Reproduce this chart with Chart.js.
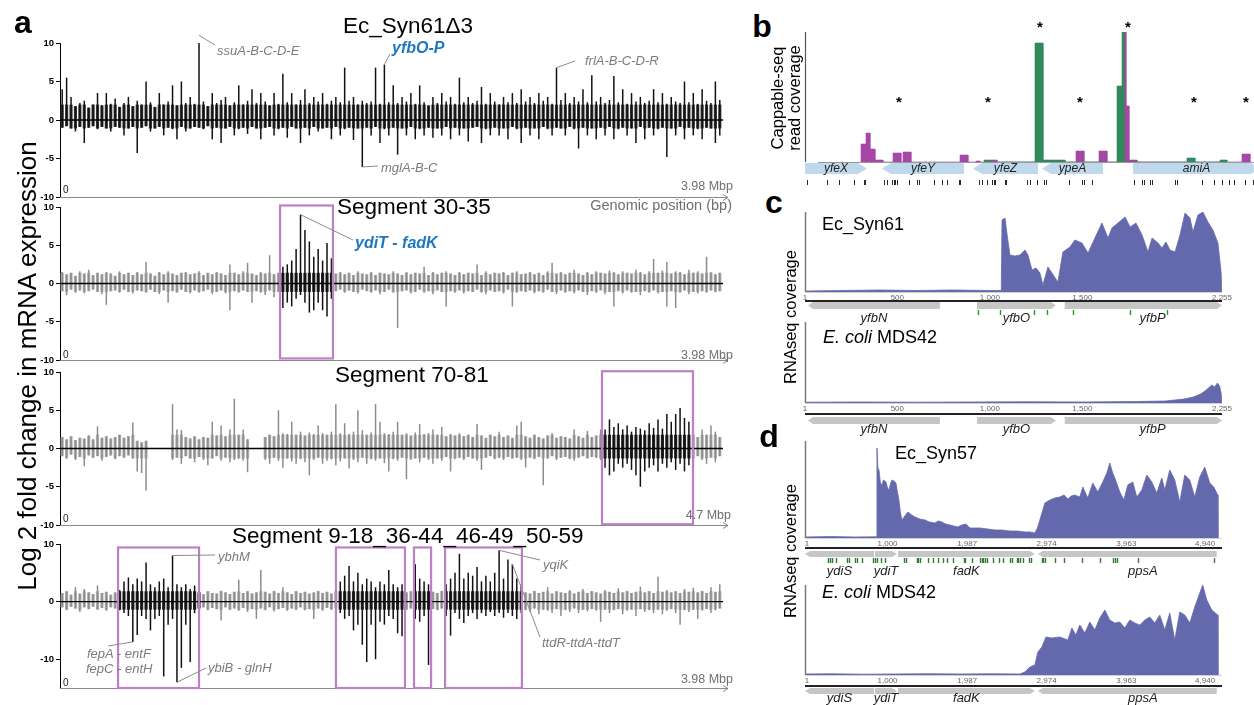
<!DOCTYPE html>
<html>
<head>
<meta charset="utf-8">
<title>mRNA expression and coverage panels</title>
<script src="https://cdn.jsdelivr.net/npm/chart.js@4.4.1/dist/chart.umd.min.js"></script>
<style>
  html, body { margin: 0; padding: 0; background: #fff; }
  body { width: 1254px; height: 705px; position: relative; overflow: hidden;
         font-family: "Liberation Sans", Arial, sans-serif; color: #000; }
  canvas { position: absolute; }
  .t { position: absolute; white-space: nowrap; line-height: 1; z-index: 2; }
  .c { transform: translate(-50%, -50%); }
  .l { transform: translate(0, -50%); }
  .r { transform: translate(-100%, -50%); }
  .v { transform: translate(-50%, -50%) rotate(-90deg); text-align: center; }
  .letter { font-size: 32px; font-weight: bold; }
  .title { font-size: 22.5px; }
  .gene { color: #7b7b7b; font-style: italic; font-size: 13px; }
  .hit { color: #1b78c3; font-style: italic; font-weight: bold; font-size: 16px; }
  .axnote { color: #6f6f6f; font-size: 12.5px; }
  .zero { font-size: 10px; color: #222; }
  .strain { font-size: 18px; }
</style>
</head>
<body>

<!-- panel letters -->
<div class="t c letter" style="left:23px;top:22px">a</div>
<div class="t c letter" style="left:762px;top:26px">b</div>
<div class="t c letter" style="left:774px;top:202px">c</div>
<div class="t c letter" style="left:769px;top:436px">d</div>

<!-- panel a -->
<div class="t v" style="left:27px;top:366px;font-size:26px">Log 2 fold change in mRNA expression</div>
<div class="t c title" style="left:408px;top:26px">Ec_Syn61Δ3</div>
<div class="t l title" style="left:337px;top:207px">Segment 30-35</div>
<div class="t l title" style="left:335px;top:375px">Segment 70-81</div>
<div class="t l title" style="left:232px;top:536px">Segment 9-18_36-44_46-49_50-59</div>

<div class="t l hit" style="left:392px;top:48px">yfbO-P</div>
<div class="t l hit" style="left:355px;top:243px">ydiT - fadK</div>

<div class="t l gene" style="left:217px;top:50px">ssuA-B-C-D-E</div>
<div class="t l gene" style="left:381px;top:167px">mglA-B-C</div>
<div class="t l gene" style="left:585px;top:60px">frlA-B-C-D-R</div>
<div class="t l gene" style="left:218px;top:556px">ybhM</div>
<div class="t l gene" style="left:87px;top:653px">fepA - entF</div>
<div class="t l gene" style="left:86px;top:668px">fepC - entH</div>
<div class="t l gene" style="left:208px;top:667px">ybiB - glnH</div>
<div class="t l gene" style="left:543px;top:564px">yqiK</div>
<div class="t l gene" style="left:542px;top:642px">ttdR-ttdA-ttdT</div>

<div class="t l zero" style="left:63px;top:190px">0</div>
<div class="t l zero" style="left:63px;top:355px">0</div>
<div class="t l zero" style="left:63px;top:519px">0</div>
<div class="t l zero" style="left:63px;top:683px">0</div>
<div class="t r axnote" style="left:733px;top:186px">3.98 Mbp</div>
<div class="t r axnote" style="left:733px;top:355px">3.98 Mbp</div>
<div class="t r axnote" style="left:731px;top:515px">4.7 Mbp</div>
<div class="t r axnote" style="left:733px;top:679px">3.98 Mbp</div>
<div class="t r axnote" style="left:732px;top:205px;font-size:14.5px">Genomic position (bp)</div>

<!-- panel b, c, d -->
<div class="t v" style="left:786px;top:98px;font-size:16.5px;line-height:17px">Cappable-seq<br>read coverage</div>
<div class="t v" style="left:790px;top:317px;font-size:16.5px">RNAseq coverage</div>
<div class="t v" style="left:790px;top:551px;font-size:16.5px">RNAseq coverage</div>
<div class="t l strain" style="left:822px;top:224px">Ec_Syn61</div>
<div class="t l strain" style="left:823px;top:337px"><i>E. coli</i> MDS42</div>
<div class="t l strain" style="left:895px;top:453px">Ec_Syn57</div>
<div class="t l strain" style="left:822px;top:592px"><i>E. coli</i> MDS42</div>

<script>
// ---------- panel a: log2 fold change per genome bin (upper / lower extent) ----------
const syn61Hi = [
  4, 5.5, 3, 1.8, 2.2, 2.5, 1.6, 2, 3.5, 1.9, 3.5, 2.1, 2.8, 1.7, 2.2,
  3, 1.8, 2.5, 2, 5, 2.3, 1.7, 3.5, 2, 2.4, 4.5, 1.9, 5, 2.2, 3,
  2.1, 11, 2.4, 1.8, 3.5, 2.2, 2.6, 3, 1.9, 2.3, 4.5, 2, 2.5, 4, 2.2,
  3.5, 2.4, 1.9, 3.5, 2.1, 6, 2.3, 3.5, 2, 2.6, 4, 2.2, 3, 2.4, 3.5,
  2.1, 2.5, 3, 2.3, 6.8, 2.5, 3, 2, 2.5, 2.2, 2.4, 6.8, 2.1, 7.2, 2.3,
  4.5, 2.2, 3, 2.4, 3.5, 2.1, 4.5, 2.3, 1.9, 3, 2.2, 3.5, 2.4, 3, 2.1,
  5.5, 2.3, 3, 2.2, 2.5, 4.3, 2.1, 3.5, 2.4, 2, 3, 2.3, 3.5, 2.2, 4,
  2.4, 3, 2.2, 3.5, 2.5, 3, 2.1, 6.8, 2.6, 3.5, 2.2, 3, 2.4, 4, 2.3,
  5.8, 2.4, 3, 2.2, 2.6, 5.7, 2.3, 4, 2.1, 3.5, 2.4, 3, 2.2, 2.5, 4,
  2.3, 3.5, 2.1, 3, 2.4, 2.2, 5, 2.3, 3.5, 2.1, 4, 2.5, 2.2, 5, 2.6
];
const syn61Lo = [
  -1, -0.8, -1.1, -1.5, -0.9, -3, -1, -0.8, -1.2, -0.9, -1.1, -1.5, -0.9, -1, -2,
  -1.1, -0.9, -4.3, -1, -0.8, -1.5, -1.1, -0.9, -2, -1, -1.2, -2.5, -0.9, -1.5, -1.1,
  -0.9, -1, -1.2, -0.8, -2.5, -1, -3, -1.1, -0.9, -2, -1.2, -1, -1.8, -0.9, -1.1,
  -2.5, -1, -0.9, -2, -1.2, -1, -2.3, -0.9, -1.1, -3, -1, -2, -0.9, -1.5, -1.1,
  -1, -2.5, -0.9, -2, -1.2, -1, -2.6, -1.1, -6.1, -1, -2, -0.9, -3, -1.2, -2,
  -1, -4.5, -1.1, -2, -0.9, -2.5, -1.2, -2, -1, -2.3, -1.1, -2, -0.9, -2.5, -1,
  -2, -1.1, -2.8, -1, -0.9, -3, -1.2, -2, -1, -2, -1.1, -2.5, -0.9, -1.2, -3,
  -1, -2, -1.1, -2.5, -0.9, -1.2, -2, -1, -1.1, -2, -0.9, -1.2, -3.7, -1, -2,
  -1.1, -2.5, -1, -2, -0.9, -2.5, -1.2, -1, -2, -1.1, -3, -0.9, -2.5, -1, -2,
  -1.2, -1, -4.8, -1.1, -2, -0.9, -2.5, -1, -2, -1.2, -2.5, -1, -1.1, -3, -2
];

const seg30Hi = [
  1.5, 1.2, 1.4, 1, 1.6, 1.3, 1.8, 1.1, 1.4, 1.2, 1.5, 1.3, 1, 1.6, 1.2,
  1.4, 1.1, 1.5, 1.2, 2.8, 1.3, 1, 1.5, 1.2, 1.6, 1.3, 1.1, 1.4, 1.5, 1.2,
  1.3, 1.6, 1.1, 1.4, 1.2, 1.5, 1.3, 1.1, 2.5, 1.4, 1.2, 1.6, 2.7, 1.3, 1.1,
  1.5, 1.3, 3.7, 1.2, 1.4, 2.2, 2.5, 3, 4.5, 9, 7, 5.5, 3.5, 4.5, 3,
  5.3, 3.3, 1.3, 1.5, 1.2, 1.4, 1.1, 1.6, 1.3, 1.2, 1.5, 1.1, 1.4, 1.3, 1.2,
  1.6, 1.3, 1.1, 1.5, 1.2, 1.4, 1.3, 2.2, 1.1, 1.5, 1.2, 1.4, 1.6, 1.3, 1.1,
  1.5, 1.2, 1.4, 1.3, 2.5, 1.1, 1.6, 1.2, 1.4, 1.3, 1.5, 1.1, 1.4, 1.6, 1.2,
  1.3, 1.5, 1.2, 1.4, 1.1, 1.6, 2.7, 1.3, 1.5, 1.2, 1.4, 1.8, 1.3, 1.1, 1.5,
  1.2, 1.6, 1.4, 1.3, 1.7, 1.5, 1.2, 1.6, 1.4, 1.3, 1.8, 1.5, 1.2, 1.6, 3.2,
  1.4, 1.7, 2.8, 1.3, 1.6, 1.5, 1.2, 1.8, 1.4, 1.6, 1.3, 3.5, 1.5, 1.2, 1.4
];
const seg30Lo = [
  -1, -1.5, -0.8, -1.2, -0.9, -1.3, -1, -0.8, -1.1, -1.4, -2.8, -1, -0.9, -1.2, -0.8,
  -1.1, -1.3, -0.9, -1, -1.2, -0.8, -1.1, -1.4, -0.9, -2.5, -1, -1.2, -0.8, -1.1, -1.3,
  -0.9, -1.2, -1, -0.8, -1.4, -1.1, -0.9, -1.3, -3.5, -1, -1.2, -0.9, -1.1, -2.5, -1,
  -1.2, -1.5, -0.9, -1.8, -1.1, -3.2, -2.5, -3, -2, -1.5, -2.5, -3.8, -3.5, -2.5, -3.5,
  -4.3, -2, -1, -0.8, -1.2, -0.9, -1.1, -1.3, -0.8, -1, -1.2, -0.9, -1.4, -1.1, -0.8,
  -1.2, -5.8, -1, -0.9, -1.3, -1.1, -0.8, -1.2, -1, -1.4, -0.9, -1.1, -3, -1, -1.2,
  -0.9, -1.3, -1, -1.1, -0.8, -1.2, -1.4, -0.9, -1.1, -1, -1.3, -0.8, -3, -1.2, -1,
  -1.1, -0.9, -1.3, -1, -1.2, -0.8, -1.1, -1.4, -0.9, -1.2, -1, -1.3, -0.9, -1.1, -1.5,
  -1, -1.2, -0.9, -1.4, -1.1, -3, -1, -1.3, -0.9, -1.2, -1.1, -1.5, -1, -1.2, -0.9,
  -1.3, -1.1, -3, -1, -3.2, -1.2, -0.9, -1.4, -1.1, -1.3, -1, -1.2, -0.9, -1.1, -1
];

const seg70Hi = [
  1.5, 1.2, 1.6, 1.1, 1.4, 1.3, 1.7, 1.2, 2.9, 1.4, 1.6, 1.3, 1.5, 1.8, 1.4,
  1.6, 3.4, 1, 0.8, 1, null, null, null, null, null, 5.8, 2.5, 2.4, 1.5, 1.3,
  1.6, 1.2, 1.5, 1.4, 3.5, 1.7, 3, 1.6, 2.5, 6.5, 1.8, 2.5, 1.2, null, null,
  null, 1.5, 1.8, 1.6, 5, 2, 1.9, 3.5, 1.8, 2.2, 1.7, 2.1, 1.9, 3, 2,
  1.8, 2.2, 5.8, 2, 3.3, 1.9, 2.2, 5, 2.4, 1.8, 2.1, 5.8, 3.5, 2, 1.9,
  2.2, 3.5, 1.8, 2, 1.7, 2.1, 3.2, 1.9, 2, 2.5, 1.8, 2.8, 1.6, 1.9, 1.7,
  2, 1.6, 1.8, 1.5, 3.2, 1.7, 1.4, 1.8, 1.6, 2.2, 1.5, 1.7, 1.4, 3, 3.5,
  1.6, 1.4, 1.8, 1.5, 1.3, 1.7, 2, 1.4, 1.6, 1.5, 1.3, 2.5, 1.6, 1.4, 2.3,
  1.5, 1.7, 2.5, 2.5, 3.8, 2.8, 3.3, 2.5, 3, 2.2, 2.8, 2.6, 2.4, 3.3, 2.7,
  3.8, 2.6, 4.5, 3.5, 4.5, 5.3, 4, 3.5, 2.5, 1.5, 2.5, 1.8, 3, 2.2, 1.5
];
const seg70Lo = [
  -1, -1.3, -0.8, -1.5, -1.1, -2.3, -0.9, -1.2, -1, -1.6, -1.1, -0.9, -1.4, -1, -1.2,
  -0.9, -1.3, -3, -3.2, -5.5, null, null, null, null, null, -1.5, -1.2, -2, -1, -1.3,
  -1.8, -1.1, -1.5, -2.2, -1.3, -1, -1.6, -1.2, -1.8, -1.5, -1.3, -1.6, -3.1, null, null,
  null, -1.5, -2, -1.2, -1.6, -2.5, -1.3, -1.7, -2, -1.4, -1.8, -3.5, -1.5, -1.2, -2,
  -1.6, -1.4, -2.2, -1.7, -1.3, -2.6, -1.5, -1.8, -1.2, -2, -1.4, -1.6, -1.3, -1.9, -3,
  -1.4, -1.6, -1.2, -4, -1.5, -1.3, -1.8, -1.2, -1.5, -2, -1.3, -1.6, -1.1, -3, -1.4,
  -1.2, -1.5, -1.1, -1.3, -1.6, -2.8, -1.2, -1, -1.4, -1.2, -1.5, -1.1, -1.3, -1.2, -1.5,
  -2.5, -1.2, -1.4, -1.1, -4.8, -1.3, -1, -1.5, -1.2, -1.1, -1.4, -1.6, -1.2, -1, -1.3,
  -1.1, -1.2, -1.5, -2.5, -3.5, -3, -2, -2.5, -2, -2.8, -3.5, -5, -3, -2.5, -2.2,
  -3, -2, -2.5, -1.8, -2.8, -2, -3, -2.2, -4.4, -1, -1.5, -2, -1.2, -1.8, -1
];

const seg9Hi = [
  1.5, 1.8, 1.2, 2.5, 1.4, 2.2, 1.6, 1.3, 2.8, 1.5, 1.7, 1.2, 1.6, 2, 3.5,
  4.2, 3, 4, 3.5, 6.8, 3, 2.5, 3.5, 4, 2.5, 8, 3, 2.5, 3, 2.2,
  2.8, 1.6, 1.3, 1.8, 1.5, 1.4, 1.9, 1.6, 1.3, 1.7, 3.8, 1.5, 1.8, 1.4, 1.6,
  5.5, 1.7, 1.4, 1.9, 1.5, 2.5, 1.6, 1.3, 1.8, 1.5, 1.7, 1.4, 1.6, 1.9, 1.5,
  1.7, 1.4, 1.8, 3.5, 4.5, 6.2, 3.5, 5, 3, 4, 3.5, 2.5, 3.5, 3, 5.5,
  3, 2.5, 3, 1.6, 1.8, 6.5, 4, 3.5, 3, 1.7, 1.5, 1.9, 3, 4, 5,
  8.3, 4, 5, 4.5, 6, 3.5, 4.5, 3.5, 5, 8.9, 4, 7.3, 6.5, 4, 3,
  1.6, 1.4, 1.9, 1.5, 1.7, 2.5, 1.4, 1.8, 1.6, 1.5, 2, 1.4, 1.7, 2.2, 1.5,
  1.8, 1.6, 1.4, 2, 1.7, 1.5, 2.3, 1.6, 1.9, 1.5, 1.7, 2.6, 1.6, 1.8, 1.5,
  4.3, 1.7, 2, 1.6, 1.8, 1.5, 2.2, 1.7, 2.4, 1.6, 1.9, 1.5, 2.5, 1.7, 3
];
const seg9Lo = [
  -1, -1.5, -0.9, -1.2, -1.8, -1, -1.3, -0.9, -1.4, -1.1, -1.6, -1, -1.2, -1.5, -2,
  -2.5, -7, -5.8, -2.5, -3, -5, -3, -2.5, -13, -4, -3, -14, -11.5, -4, -10.5,
  -2, -1.2, -1, -1.5, -1.1, -1.3, -3.3, -1, -1.4, -1.2, -1.6, -1.1, -1.8, -1.3, -3,
  -1.2, -1.5, -1, -1.7, -1.3, -1.1, -1.6, -1.2, -1.4, -1, -1.5, -1.3, -3, -1.2, -1.6,
  -1.1, -1.4, -1.2, -2, -3, -2.5, -5, -4, -7.5, -10.5, -4, -10, -3.5, -4, -2.5,
  -3, -5.5, -6, -1.4, -1.2, -3, -3.5, -2.5, -11, -1.3, -1.5, -1.2, -2.5, -5.9, -2,
  -3, -3.7, -2.5, -2, -3, -2, -2.5, -1.8, -2.5, -2, -2.8, -2, -2.5, -3, -2,
  -1.5, -1.8, -1.2, -2.2, -1.4, -1.6, -2, -1.3, -2.5, -1.5, -1.8, -1.2, -2, -1.4, -1.7,
  -1.3, -1.6, -3.5, -1.4, -2, -1.5, -1.3, -2.2, -1.6, -1.4, -2.5, -1.3, -1.8, -1.5, -2,
  -1.4, -2.2, -1.6, -1.3, -2, -4, -1.5, -1.8, -1.4, -3, -1.6, -1.3, -2, -1.5, -1.2
];

// highlighted segments (Mbp)
const seg30Boxes = [[1.323, 1.641]];
const seg70Boxes = [[3.848, 4.494]];
const seg9Boxes = [[0.349, 0.836], [1.659, 2.074], [2.128, 2.231], [2.315, 2.777]];

// ---------- panel b: Cappable-seq coverage blocks [start bp, end bp, reads] ----------
const capPurple = [[1120, 1220, 18], [1220, 1300, 29], [1300, 1400, 13], [1400, 1560, 2],
  [1760, 1920, 9], [1960, 2120, 10], [3100, 3260, 7], [3420, 3500, 1], [3700, 3840, 2],
  [5420, 5580, 11], [5880, 6040, 11], [6360, 6420, 130], [6420, 6480, 56], [6480, 6640, 2],
  [8740, 8900, 8]];
const capGreen = [[3580, 3700, 2], [4600, 4760, 119], [4760, 5200, 2], [6240, 6340, 76],
  [6340, 6380, 130], [7640, 7800, 4], [8300, 8440, 2]];
const capStars = [[1880, 63], [3660, 63], [5500, 63], [7780, 63], [8820, 63], [4700, 138], [6460, 138]];
const genesB = [['yfeX', 0, 1240, 1], ['yfeY', 1540, 3180, -1], ['yfeZ', 3360, 4660, -1],
  ['ypeA', 4740, 5960, -1], ['amiA', 6560, 9100, 1]];
const sitesB = [30, 430, 670, 970, 1180, 1200, 1570, 1630, 1730, 1770, 1800, 1830, 2070, 2230,
  2270, 2570, 2730, 2830, 3070, 3100, 3470, 3530, 3630, 3730, 3770, 3800, 4000, 4020, 4430,
  4500, 4630, 4770, 4830, 5270, 5530, 5570, 5730, 6570, 6730, 6770, 6900, 6930, 7400, 7430,
  7930, 8170, 8330, 8470, 8570, 8800, 8950];

// ---------- panel c: yfbN-yfbO-yfbP RNAseq coverage ----------
const ticksC = [1, 500, 1000, 1500, 2255];
const covC1Pos = [1, 200, 400, 600, 800, 1000, 1062, 1066, 1082, 1095,
  1109, 1135, 1163, 1190, 1206, 1228, 1250, 1271, 1287, 1314,
  1336, 1368, 1395, 1433, 1460, 1498, 1531, 1568, 1606, 1639,
  1660, 1693, 1731, 1758, 1790, 1823, 1855, 1877, 1909, 1931,
  1952, 1974, 2001, 2028, 2055, 2082, 2098, 2125, 2152, 2179,
  2206, 2233, 2250, 2255];
const covC1Val = [1, 1.5, 2, 1.5, 2, 1.5, 1.5, 72, 74, 55,
  37, 36, 37, 42, 37, 22, 24, 19, 7, 25,
  19, 10, 40, 45, 52, 49, 39, 54, 69, 54,
  64, 69, 75, 65, 69, 57, 40, 54, 49, 44,
  50, 42, 40, 57, 79, 74, 60, 77, 80, 70,
  62, 49, 20, 0];
const covC2Pos = [1, 300, 600, 900, 1200, 1500, 1800, 1950, 2000, 2050, 2100, 2140, 2170, 2200, 2215, 2230, 2242, 2250, 2255];
const covC2Val = [0.8, 1, 0.8, 1, 1.2, 1, 1.5, 2, 3, 4, 6, 9, 13, 18, 16, 20, 17, 10, 0];
const genesC = [['yfbN', 17, 730, -1], ['yfbO', 931, 1357, 1], ['yfbP', 1405, 2255, 1, 1880]];
const sitesC = [936, 1055, 1239, 1309, 1450, 1757, 1957];

// ---------- panel d: ydiS-ydiT-fadK-ppsA RNAseq coverage ----------
const ticksD = [1, 1000, 1987, 2974, 3963, 4940];
const covD1Pos = [-24, 300, 600, 860, 869, 880, 894, 912, 931, 950,
  981, 1000, 1018, 1036, 1055, 1080, 1105, 1125, 1142, 1160,
  1179, 1215, 1253, 1300, 1340, 1400, 1464, 1520, 1588, 1630,
  1675, 1720, 1774, 1820, 1873, 1920, 1973, 2022, 2080, 2146,
  2240, 2332, 2420, 2518, 2610, 2704, 2770, 2828, 2860, 2890,
  2952, 3014, 3076, 3138, 3190, 3237, 3280, 3324, 3386, 3423,
  3485, 3547, 3609, 3671, 3721, 3758, 3790, 3820, 3882, 3932,
  3981, 4043, 4093, 4155, 4217, 4279, 4341, 4403, 4440, 4502,
  4564, 4626, 4688, 4750, 4812, 4874, 4936, 4998, 5048, 5097,
  5100];
const covD1Val = [1, 1.5, 1, 1.2, 90, 70, 68, 55, 53, 58,
  56, 50, 48, 54, 58, 57, 55, 45, 38, 25,
  18, 22, 26, 23, 21, 19, 18, 16, 15, 17,
  16, 14, 13, 12, 11, 13, 14, 10, 10, 10,
  9, 8, 8, 7, 7, 6, 6, 5, 10, 18,
  35, 38, 40, 41, 43, 39, 42, 43, 41, 51,
  40, 55, 46, 56, 65, 75, 66, 60, 46, 38,
  53, 56, 41, 48, 63, 56, 45, 60, 48, 68,
  58, 36, 63, 58, 41, 61, 71, 55, 51, 43,
  0];
const covD2Pos = [-24, 300, 700, 1100, 1500, 1900, 2300, 2642, 2704, 2766,
  2828, 2865, 2915, 2965, 3039, 3138, 3237, 3287, 3337, 3386,
  3448, 3510, 3572, 3634, 3696, 3758, 3820, 3882, 3944, 4006,
  4068, 4130, 4192, 4254, 4316, 4378, 4440, 4502, 4564, 4626,
  4688, 4750, 4812, 4874, 4911, 4961, 5023, 5097, 5100];
const covD2Val = [1, 1.2, 0.8, 1, 1.3, 1, 1.2, 1, 3, 8,
  10, 23, 28, 38, 37, 38, 35, 47, 40, 50,
  42, 53, 45, 57, 65, 55, 52, 53, 47, 55,
  52, 50, 55, 58, 52, 60, 45, 62, 35, 63,
  60, 52, 68, 82, 90, 75, 65, 60, 0];
const genesD = [['ydiS', -24, 832, -1], ['ydiT', 844, 1117, 1], ['fadK', 1129, 2828, 1], ['ppsA', 2865, 5085, -1, 4168]];
const sitesD = [265, 286, 307, 361, 501, 526, 596, 625, 679, 823, 844, 865, 915, 968, 1204,
  1229, 1361, 1381, 1402, 1504, 1567, 1629, 1684, 1733, 1815, 1948, 1964, 2043, 2146, 2167,
  2187, 2208, 2229, 2311, 2386, 2435, 2518, 2539, 2601, 2621, 2642, 2683, 2758, 2775, 2911,
  2931, 2952, 3076, 3188, 3407, 3633, 3799, 3820, 3841, 4102, 5048];

// ---------- shared setup ----------
const FONT = '"Liberation Sans", Arial, sans-serif';
Chart.defaults.font.family = FONT;
Chart.defaults.animation = false;
Chart.defaults.responsive = false;
Chart.defaults.events = [];
Chart.defaults.plugins.legend.display = false;
Chart.defaults.plugins.tooltip.enabled = false;

function makeCanvas(left, top, w, h) {
  const cv = document.createElement('canvas');
  cv.width = w;
  cv.height = h;
  cv.style.left = left + 'px';
  cv.style.top = top + 'px';
  document.body.appendChild(cv);
  return cv;
}

function segLine(ctx, x0, y0, x1, y1) {
  ctx.beginPath();
  ctx.moveTo(x0, y0);
  ctx.lineTo(x1, y1);
  ctx.stroke();
}

function geneShape(ctx, x0, x1, y, h, dir, head) {
  const m = y + h / 2;
  ctx.beginPath();
  if (dir > 0) {
    ctx.moveTo(x0, y); ctx.lineTo(x1 - head, y); ctx.lineTo(x1, m);
    ctx.lineTo(x1 - head, y + h); ctx.lineTo(x0, y + h);
  } else if (dir < 0) {
    ctx.moveTo(x1, y); ctx.lineTo(x0 + head, y); ctx.lineTo(x0, m);
    ctx.lineTo(x0 + head, y + h); ctx.lineTo(x1, y + h);
  } else {
    ctx.rect(x0, y, x1 - x0, h);
  }
  ctx.closePath();
  ctx.fill();
}

// ---------- panel a ----------
// thin spike per bin for its full range, plus a wider, lighter body near zero
function spikeChart(d) {
  const cv = makeCanvas(28, d.top - 10, 702, d.bottom - d.top + 20);
  const n = d.hi.length;
  const binX = i => (i + 0.5) * d.span / n;
  const inBox = x => d.boxes.some(b => x >= b[0] && x <= b[1]);
  const spikes = [], band = [], spikeCols = [], bandCols = [];
  d.hi.forEach((h, i) => {
    if (h === null) return;
    const x = binX(i);
    const dark = d.allDark || inBox(x);
    spikes.push({ x: x, y: [d.lo[i], h] });
    band.push({ x: x, y: [Math.max(d.lo[i], d.band[0]), Math.min(h, d.band[1])] });
    spikeCols.push(dark ? '#111' : '#8c8c8c');
    bandCols.push(dark ? (d.allDark ? '#3a3a3a' : '#262626') : '#b2b2b2');
  });

  const decor = {
    id: 'spikeDecor',
    afterDatasetsDraw(chart) {
      const { ctx, chartArea: a, scales: { x, y } } = chart;
      const ox = chart.canvas.offsetLeft, oy = chart.canvas.offsetTop;
      ctx.save();
      ctx.strokeStyle = '#000';
      ctx.lineWidth = 1.3;
      const y0 = y.getPixelForValue(0);
      segLine(ctx, a.left, y0, a.right + 1, y0);

      // genomic position arrow
      ctx.strokeStyle = '#8a8a8a';
      ctx.lineWidth = 1;
      const yb = a.bottom + 0.5;
      segLine(ctx, a.left, yb, a.right + 6, yb);
      segLine(ctx, a.right + 6, yb, a.right + 1, yb - 3);
      segLine(ctx, a.right + 6, yb, a.right + 1, yb + 3);

      // highlighted segments
      ctx.strokeStyle = '#bf7fc8';
      ctx.lineWidth = 2.2;
      d.boxes.forEach(b => {
        const x0 = x.getPixelForValue(b[0]), x1 = x.getPixelForValue(b[1]);
        const t = y.getPixelForValue(d.boxY[0]), bt = y.getPixelForValue(d.boxY[1]);
        ctx.strokeRect(x0, t, x1 - x0, bt - t);
      });

      // callout leaders from spikes to gene names
      ctx.strokeStyle = '#8c8c8c';
      ctx.lineWidth = 1;
      (d.callouts || []).forEach(c => {
        const v = c.side === 'hi' ? d.hi[c.bin] : d.lo[c.bin];
        segLine(ctx, x.getPixelForValue(binX(c.bin)), y.getPixelForValue(v), c.to[0] - ox, c.to[1] - oy);
      });
      ctx.restore();
    }
  };

  return new Chart(cv, {
    type: 'bar',
    data: { datasets: [
      { data: spikes, backgroundColor: spikeCols, grouped: false, barPercentage: 0.34, categoryPercentage: 1 },
      { data: band, backgroundColor: bandCols, grouped: false, barPercentage: 0.72, categoryPercentage: 1 }
    ] },
    options: {
      layout: { padding: { top: 10, bottom: 10, left: 0, right: 8 } },
      scales: {
        x: { type: 'linear', min: 0, max: d.span, display: false, offset: false },
        y: {
          min: d.ymin, max: 10,
          afterFit: s => { s.width = 32; },
          afterBuildTicks: s => { s.ticks = d.ticks.map(v => ({ value: v })); },
          ticks: { font: { size: 9.5, weight: 'bold' }, color: '#000', padding: 2 },
          grid: { drawOnChartArea: false, color: '#000', tickLength: 4 },
          border: { color: '#000', width: 1 }
        }
      }
    },
    plugins: [decor]
  });
}

spikeChart({ hi: syn61Hi, lo: syn61Lo, span: 3.98, boxes: [], allDark: true, band: [-1.1, 2.0],
  top: 43, bottom: 197, ymin: -10, ticks: [10, 5, 0, -5, -10], boxY: [10.2, -9.8],
  callouts: [
    { bin: 31, side: 'hi', to: [215, 45] },
    { bin: 73, side: 'hi', to: [390, 54] },
    { bin: 68, side: 'lo', to: [378, 166] },
    { bin: 112, side: 'hi', to: [575, 61] }
  ] });
spikeChart({ hi: seg30Hi, lo: seg30Lo, span: 3.98, boxes: seg30Boxes, band: [-1.1, 1.4],
  top: 207, bottom: 360, ymin: -10, ticks: [10, 5, 0, -5, -10], boxY: [10.2, -9.8],
  callouts: [{ bin: 54, side: 'hi', to: [353, 240] }] });
spikeChart({ hi: seg70Hi, lo: seg70Lo, span: 4.7, boxes: seg70Boxes, band: [-1.3, 1.8],
  top: 372, bottom: 525, ymin: -10, ticks: [10, 5, 0, -5, -10], boxY: [10.1, -9.9] });
spikeChart({ hi: seg9Hi, lo: seg9Lo, span: 3.98, boxes: seg9Boxes, band: [-1.4, 1.8],
  top: 544, bottom: 688, ymin: -15, ticks: [10, 0, -10], boxY: [9.4, -15],
  callouts: [
    { bin: 25, side: 'hi', to: [215, 555] },
    { bin: 16, side: 'lo', to: [108, 646] },
    { bin: 26, side: 'lo', to: [206, 668] },
    { bin: 99, side: 'hi', to: [540, 560] },
    { bin: 102, side: 'hi', to: [540, 637] }
  ] });

// ---------- panel b ----------
function blockPoints(segs) {
  const p = [];
  segs.forEach(s => {
    p.push({ x: s[0], y: 0 }, { x: s[0], y: s[2] }, { x: s[1], y: s[2] }, { x: s[1], y: 0 });
  });
  return p;
}

const capDecor = {
  id: 'capDecor',
  afterDraw(chart) {
    const { ctx, chartArea: a, scales: { x, y } } = chart;
    ctx.save();
    ctx.strokeStyle = '#555';
    ctx.lineWidth = 1.2;
    segLine(ctx, a.left + 0.5, a.top, a.left + 0.5, a.bottom);
    ctx.strokeStyle = '#9a9a9a';
    ctx.lineWidth = 1;
    segLine(ctx, x.getPixelForValue(260), a.bottom + 0.5, a.right, a.bottom + 0.5);

    ctx.fillStyle = '#bfd8ec';
    genesB.forEach(g => geneShape(ctx, x.getPixelForValue(g[1]), x.getPixelForValue(g[2]), a.bottom + 1, 11, g[3], 9));
    ctx.fillStyle = '#222';
    ctx.font = 'italic 12px ' + FONT;
    ctx.textAlign = 'center';
    ctx.textBaseline = 'middle';
    genesB.forEach(g => {
      const mid = Math.min((g[1] + g[2]) / 2, 7950);
      ctx.fillText(g[0], x.getPixelForValue(mid), a.bottom + 7);
    });

    ctx.strokeStyle = '#111';
    ctx.lineWidth = 0.9;
    sitesB.forEach(s => {
      const px = Math.round(x.getPixelForValue(s)) + 0.5;
      segLine(ctx, px, a.bottom + 18, px, a.bottom + 23);
    });

    ctx.fillStyle = '#000';
    ctx.font = 'bold 15px ' + FONT;
    capStars.forEach(s => ctx.fillText('*', x.getPixelForValue(s[0]), y.getPixelForValue(s[1]) + 4));
    ctx.restore();
  }
};

new Chart(makeCanvas(800, 10, 455, 180), {
  type: 'line',
  data: {
    datasets: [
      { data: blockPoints(capGreen), fill: 'origin', backgroundColor: '#2f8a5c', borderColor: '#2f8a5c',
        borderWidth: 0.6, pointRadius: 0, tension: 0 },
      { data: blockPoints(capPurple), fill: 'origin', backgroundColor: '#a646a6', borderColor: '#a646a6',
        borderWidth: 0.6, pointRadius: 0, tension: 0 }
    ]
  },
  options: {
    layout: { padding: { left: 5, right: 0, top: 22, bottom: 28 } },
    scales: {
      x: { type: 'linear', min: 0, max: 9000, display: false },
      y: { min: 0, max: 130, display: false }
    }
  },
  plugins: [capDecor]
});

// ---------- panels c and d ----------
function trackDecor(cfg) {
  return {
    id: 'trackDecor',
    afterDraw(chart) {
      const { ctx, chartArea: a, scales: { x } } = chart;
      ctx.save();
      ctx.strokeStyle = '#7a7a7a';
      ctx.lineWidth = 1.5;
      segLine(ctx, a.left + 0.5, a.top, a.left + 0.5, a.bottom);
      ctx.strokeStyle = '#d0d0d0';
      ctx.lineWidth = 1;
      segLine(ctx, a.left, a.bottom + 0.5, a.right, a.bottom + 0.5);
      ctx.strokeStyle = '#222';
      ctx.lineWidth = 2;
      segLine(ctx, a.left, a.bottom + cfg.lineOff, a.right, a.bottom + cfg.lineOff);

      ctx.fillStyle = '#c6c6c6';
      cfg.genes.forEach(g => geneShape(ctx, x.getPixelForValue(Math.max(g[1], cfg.xmin)),
        x.getPixelForValue(g[2]), a.bottom + cfg.geneOff, cfg.geneH, g[3], 5));

      if (cfg.sites) {
        ctx.strokeStyle = cfg.siteColor;
        ctx.lineWidth = 1.4;
        cfg.sites.forEach(s => {
          const px = Math.round(x.getPixelForValue(s)) + 0.5;
          segLine(ctx, px, a.bottom + cfg.siteOff, px, a.bottom + cfg.siteOff + 5);
        });
      }

      ctx.fillStyle = '#222';
      ctx.font = 'italic 13px ' + FONT;
      ctx.textAlign = 'center';
      ctx.textBaseline = 'middle';
      cfg.genes.forEach(g => {
        const at = g[4] !== undefined ? g[4] : (g[1] + g[2]) / 2;
        ctx.fillText(g[0], x.getPixelForValue(at), a.bottom + cfg.labelOff);
      });
      ctx.restore();
    }
  };
}

function coverageChart(pos, val, cfg) {
  const below = cfg.labelOff + 10;
  const cv = makeCanvas(800, cfg.top - 8, 435, 8 + (cfg.bottom - cfg.top) + below);
  const pts = pos.map((p, i) => ({ x: p, y: val[i] }));
  return new Chart(cv, {
    type: 'line',
    data: { datasets: [{ data: pts, fill: 'origin', backgroundColor: '#6469ad', borderColor: '#6469ad',
      borderWidth: 0.8, pointRadius: 0, tension: 0 }] },
    options: {
      layout: { padding: { left: 5, right: 13, top: 8, bottom: below - 12 } },
      scales: {
        x: {
          type: 'linear', min: cfg.xmin, max: cfg.xmax,
          afterBuildTicks: s => { s.ticks = cfg.ticks.map(v => ({ value: v })); },
          afterFit: s => { s.height = 12; },
          grid: { display: false, drawTicks: false },
          border: { display: false },
          ticks: { font: { size: 8 }, color: '#666', padding: 1, maxRotation: 0, autoSkip: false,
            callback: v => Number(v).toLocaleString('en-US') }
        },
        y: { min: 0, max: cfg.ymax, display: false }
      }
    },
    plugins: [trackDecor(cfg)]
  });
}

coverageChart(covC1Pos, covC1Val, { top: 212, bottom: 292, ymax: 80, xmin: 1, xmax: 2255, ticks: ticksC,
  genes: genesC, sites: sitesC, siteColor: '#2a9a2a', lineOff: 9, geneOff: 10, geneH: 7, siteOff: 18, labelOff: 26 });
coverageChart(covC2Pos, covC2Val, { top: 322, bottom: 403, ymax: 81, xmin: 1, xmax: 2255, ticks: ticksC,
  genes: genesC, lineOff: 11, geneOff: 14, geneH: 7, labelOff: 26 });
coverageChart(covD1Pos, covD1Val, { top: 441, bottom: 538, ymax: 97, xmin: -24, xmax: 5150, ticks: ticksD,
  genes: genesD, sites: sitesD, siteColor: '#2e7d2e', lineOff: 10, geneOff: 13, geneH: 6, siteOff: 20, labelOff: 33 });
coverageChart(covD2Pos, covD2Val, { top: 585, bottom: 675, ymax: 90, xmin: -24, xmax: 5150, ticks: ticksD,
  genes: genesD, lineOff: 11, geneOff: 13, geneH: 6, labelOff: 23 });
</script>
</body>
</html>
